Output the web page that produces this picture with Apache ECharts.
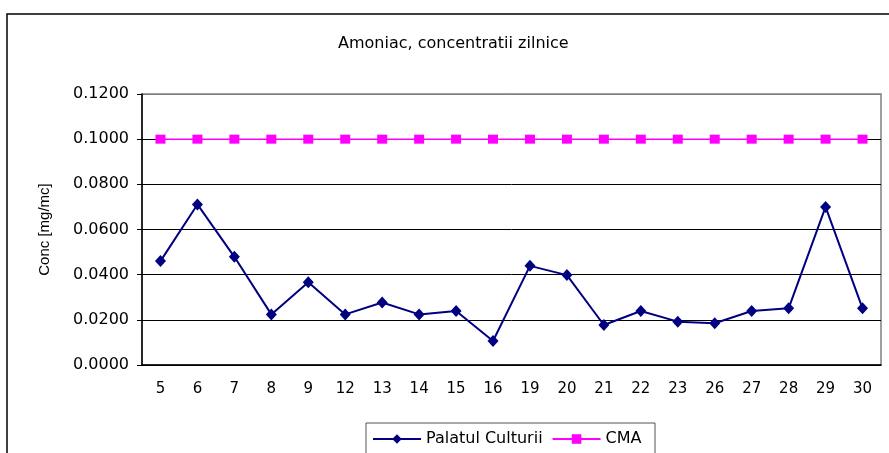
<!DOCTYPE html>
<html>
<head>
<meta charset="utf-8">
<script src="https://cdn.jsdelivr.net/npm/echarts@6/dist/echarts.min.js"></script>
<style>
  html, body { margin: 0; padding: 0; background: #fff; }
  #chart { width: 889px; height: 453px; }
</style>
</head>
<body>
<div id="chart"></div>
<script>
const days = ['5', '6', '7', '8', '9', '12', '13', '14', '15', '16', '19', '20', '21', '22', '23', '26', '27', '28', '29', '30'];
const palatulCulturii = [0.0460, 0.0711, 0.0479, 0.0224, 0.0366, 0.0224, 0.0277, 0.0224, 0.0239, 0.0106,
  0.0439, 0.0398, 0.0177, 0.0239, 0.0192, 0.0185, 0.0239, 0.0251, 0.0700, 0.0251];
const cma = [0.1, 0.1, 0.1, 0.1, 0.1, 0.1, 0.1, 0.1, 0.1, 0.1, 0.1, 0.1, 0.1, 0.1, 0.1, 0.1, 0.1, 0.1, 0.1, 0.1];

const chart = echarts.init(document.getElementById('chart'));

chart.setOption({
  animation: false,
  backgroundColor: '#fff',
  title: {
    text: 'Amoniac, concentratii zilnice',
    left: 333,
    top: 31,
    textStyle: { fontFamily: 'DejaVu Sans', fontSize: 16, fontWeight: 'normal', color: '#000' }
  },
  graphic: [
    // outer chart frame
    {
      type: 'rect',
      shape: { x: 7, y: 14, width: 1000, height: 600 },
      style: { fill: 'none', stroke: '#000', lineWidth: 1.5 },
      z: 0
    },
    // legend frame
    {
      type: 'rect',
      shape: { x: 366, y: 423, width: 289, height: 60 },
      style: { fill: '#fff', stroke: '#555', lineWidth: 1 },
      z: 1
    }
  ],
  legend: {
    left: 372,
    top: 431,
    padding: 0,
    itemWidth: 48,
    itemHeight: 12,
    itemGap: 9,
    textStyle: { fontFamily: 'DejaVu Sans', fontSize: 16, color: '#000' },
    z: 5
  },
  grid: {
    left: 142,
    right: 8,
    top: 94,
    bottom: 88,
    show: true,
    borderColor: '#808080',
    borderWidth: 1.5
  },
  xAxis: {
    type: 'category',
    data: days,
    boundaryGap: true,
    axisLine: { lineStyle: { color: '#000', width: 1.5 } },
    axisTick: { length: 5, lineStyle: { color: '#000' } },
    axisLabel: { margin: 17, fontFamily: 'DejaVu Sans', fontSize: 15, color: '#000' },
    splitLine: { show: false }
  },
  yAxis: {
    type: 'value',
    min: 0,
    max: 0.12,
    interval: 0.02,
    name: 'Conc [mg/mc]',
    nameLocation: 'middle',
    nameRotate: 90,
    nameGap: 90,
    nameTextStyle: { fontFamily: 'Liberation Sans', fontSize: 15, color: '#000' },
    axisLine: { show: true, lineStyle: { color: '#000', width: 1.5 } },
    axisTick: { show: true, length: 5, lineStyle: { color: '#000' } },
    axisLabel: {
      margin: 13,
      fontFamily: 'DejaVu Sans',
      fontSize: 16,
      color: '#000',
      formatter: (v) => v.toFixed(4)
    },
    splitLine: {
      show: true,
      lineStyle: { color: ['#000', '#000', '#000', '#000', '#000', '#000', '#808080'], width: 1 }
    }
  },
  series: [
    {
      name: 'Palatul Culturii',
      type: 'line',
      data: palatulCulturii,
      symbol: 'diamond',
      symbolSize: [11, 12],
      color: '#000080',
      lineStyle: { color: '#000080', width: 2 },
      itemStyle: { color: '#000080' },
      z: 3
    },
    {
      name: 'CMA',
      type: 'line',
      data: cma,
      symbol: 'rect',
      symbolSize: [10, 9],
      color: '#ff00ff',
      lineStyle: { color: '#ff00ff', width: 1.5 },
      itemStyle: { color: '#ff00ff' },
      z: 3
    }
  ]
});
</script>
</body>
</html>
